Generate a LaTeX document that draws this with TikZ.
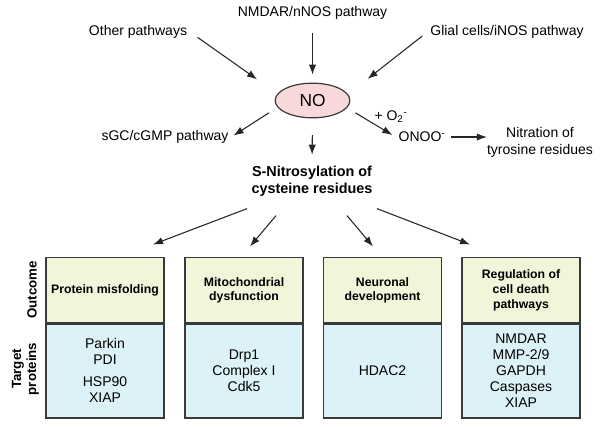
\documentclass[tikz,border=0pt]{standalone}
\usepackage{fontspec}
\setmainfont{Liberation Sans}
\usetikzlibrary{arrows.meta, calc, shapes.geometric}

\definecolor{nofill}{HTML}{F8D8D8}
\definecolor{outfill}{HTML}{F0F6DA}
\definecolor{tgtfill}{HTML}{DCF2F8}
\definecolor{edge}{HTML}{3A3A3A}

\tikzset{
    txt/.style={font=\fontsize{10.5}{12}\selectfont, inner sep=2pt},
    arr/.style={-{Latex[length=7.5pt,width=5.5pt]}, line width=0.8pt, draw=black!85},
    outbox/.style={draw=edge, line width=0.9pt, fill=outfill, minimum width=88.5pt, minimum height=49pt,
        align=center, font=\bfseries\fontsize{9.2}{11}\selectfont},
    tgtbox/.style={draw=edge, line width=0.9pt, fill=tgtfill, minimum width=88.5pt, minimum height=71.25pt,
        align=center, font=\fontsize{10.5}{12}\selectfont},
    sidelbl/.style={rotate=90, align=center, font=\bfseries\fontsize{10}{11.25}\selectfont}
}

\begin{document}
\begin{tikzpicture}[x=0.75pt, y=-0.75pt]
        \fill[white] (0,0) rectangle (602,427);
        \useasboundingbox (0,0) rectangle (602,427);

        \node[txt] (nmdar) at (312.5,13) {NMDAR/nNOS pathway};
        \node[txt] (other) at (138,32) {Other pathways};
        \node[txt] (glial) at (507,32) {Glial cells/iNOS pathway};
        \node[ellipse, draw=edge, line width=0.9pt, fill=nofill, minimum width=56pt, minimum height=26pt,
            inner sep=0pt, font=\fontsize{13}{15}\selectfont] (no) at (312.5,100.5) {NO};
        \node[txt] (sgc) at (165,137) {sGC/cGMP pathway};
        \node[txt] (o2) at (391,117) {+ O\textsubscript{2}\textsuperscript{-}};
        \node[txt] (onoo) at (422,137) {ONOO\textsuperscript{-}};
        \node[txt, align=center, inner sep=0pt, font=\fontsize{10.5}{12.5}\selectfont] (nitr) at (540,142.5) {Nitration of\\tyrosine residues};
        \node[txt, align=center, font=\bfseries\fontsize{10.8}{12.75}\selectfont] (snitro) at (312,181.5) {S-Nitrosylation of\\cysteine residues};

        \draw[arr, shorten <=8pt, shorten >=6pt] (nmdar.south) -- (no.north);
        \draw[arr, shorten <=7pt, shorten >=18.7pt] (other.east) -- (no.169.6);
        \draw[arr, shorten <=5pt, shorten >=18.7pt] (glial.west) -- (no.10.4);
        \draw[arr, shorten <=7.5pt, shorten >=2pt] (no.191.3) -- (sgc.east);
        \draw[arr, shorten <=7.3pt, shorten >=3pt] (no.348.7) -- (onoo.west);
        \draw[arr, shorten <=2pt] (onoo.east) -- (onoo.east -| nitr.west);
        \draw[arr, shorten <=12.5pt, shorten >=6.5pt] (no.south) -- (snitro.north);

        \foreach \i/\cx/\outtxt/\tgttxt in {1/105/{Protein misfolding}/{Parkin\\PDI\\[4pt]HSP90\\XIAP},
                2/244/{Mitochondrial\\dysfunction}/{Drp1\\Complex I\\Cdk5},
                3/382.5/{Neuronal\\development}/{HDAC2},
                4/521/{Regulation of\\cell death\\pathways}/{NMDAR\\MMP-2/9\\GAPDH\\Caspases\\XIAP}}{
                \node[outbox] (out\i) at (\cx,290.25) {\outtxt};
                \node[tgtbox] (tgt\i) at (\cx,370.5) {\tgttxt};
                \draw[line width=1.6pt, draw=edge] (out\i.south west) -- (out\i.south east);
            }

        \foreach \i/\sx/\sy/\ex/\ey in {1/-65/9/48/-12.5, 2/-36/16/6/-10.5, 3/35/16/-9.5/-10.5, 4/65/9/-51/-12.5}{
                \draw[arr] ($(snitro.south)+(\sx,\sy)$) -- ($(out\i.north)+(\ex,\ey)$);
            }

        \node[sidelbl] (outlbl) at (32,290) {Outcome};
        \node[sidelbl] (tgtlbl) at (25.5,369) {Target\\proteins};
    \end{tikzpicture}
\end{document}
